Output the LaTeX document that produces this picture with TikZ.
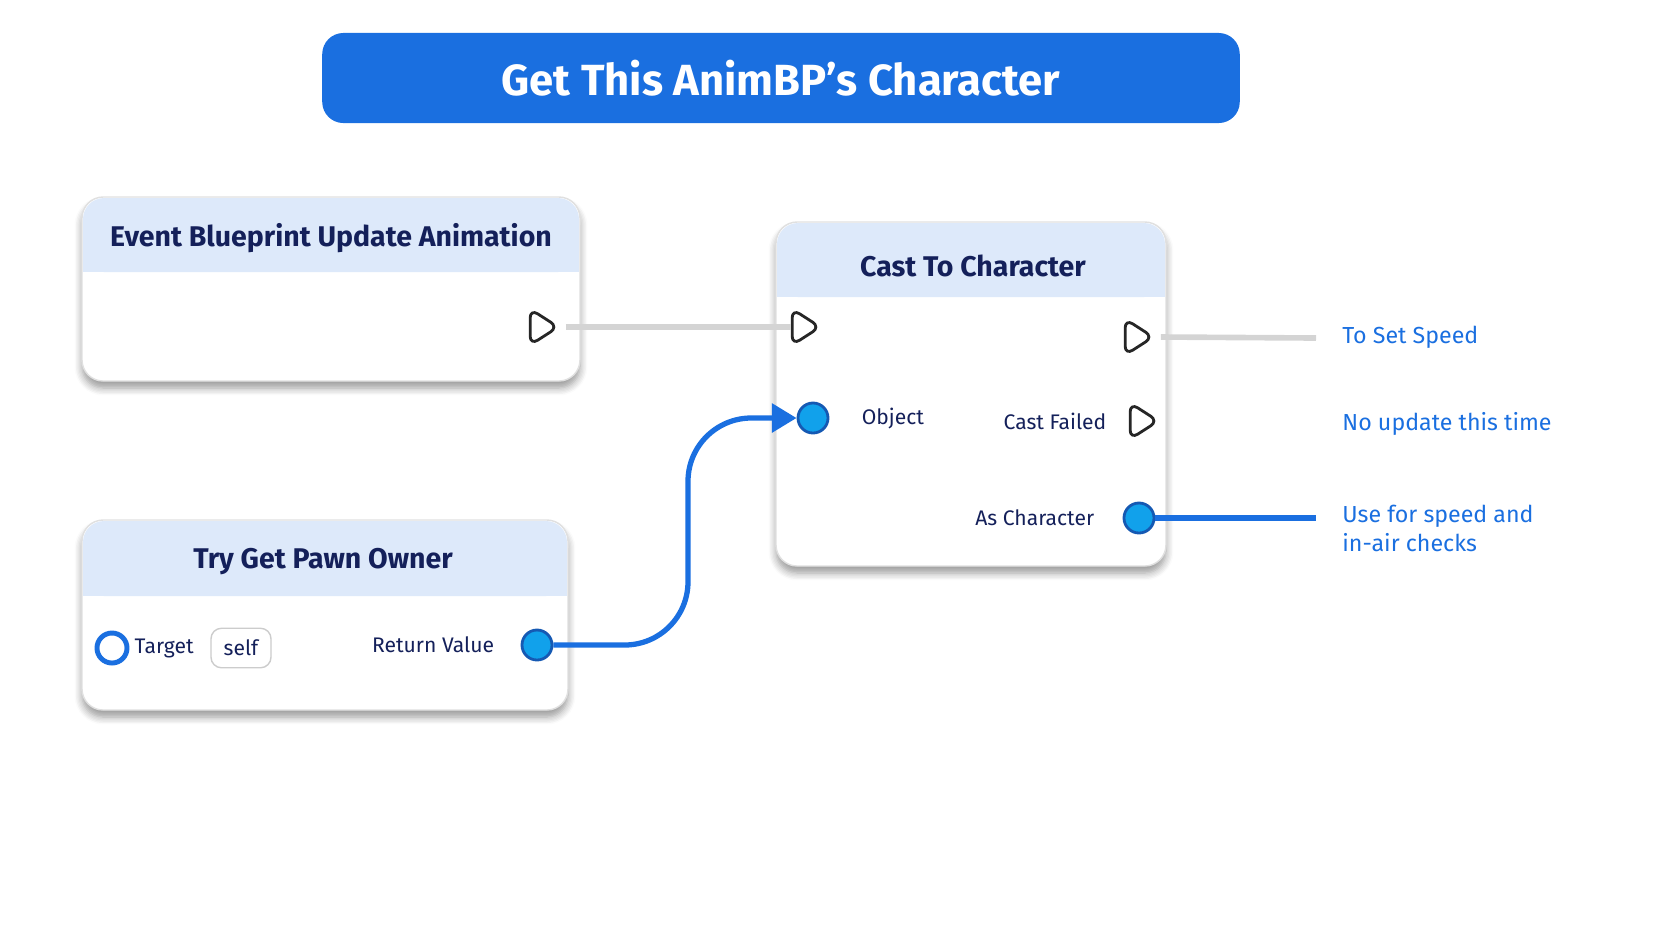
\documentclass[tikz,border=0pt]{standalone}
\usepackage{fontspec}
\setmainfont{Fira Sans}
\usepackage{tikz}
\usetikzlibrary{positioning,shapes.geometric,shadows.blur,arrows.meta}
\definecolor{eBlue}{HTML}{1A6FE0}
\definecolor{eNavy}{HTML}{14205A}
\definecolor{eHead}{HTML}{DDE9FA}
\definecolor{eWire}{HTML}{D4D4D4}
\tikzset{box/.style={draw=black!12, fill=white, rounded corners=6pt,
  blur shadow={shadow blur steps=6, shadow xshift=0pt, shadow yshift=-2pt}}}
\tikzset{head/.style={fill=eHead, rounded corners=6pt}}
\tikzset{ttl/.style={text=eNavy, font=\fontsize{8.1}{10}\selectfont\bfseries}}
\tikzset{pl/.style={text=eNavy, font=\fontsize{6.0}{8}\selectfont}}
\tikzset{note/.style={text=eBlue, font=\fontsize{6.6}{8.2}\selectfont, anchor=west, align=left}}
\tikzset{ex/.style={isosceles triangle, draw=black!85, fill=white, thick,
  rounded corners=2.5pt, inner sep=0pt, minimum height=0.28cm,
  minimum width=0.36cm, isosceles triangle stretches}}
\tikzset{dat/.style={circle, draw=eBlue!80!black, fill=eBlue!65!cyan, thick,
  inner sep=0pt, minimum size=0.3cm}}
\tikzset{w/.style={draw=eWire, line width=1.6pt}}
\tikzset{bw/.style={draw=eBlue, line width=1.5pt}}
\begin{document}
\begin{tikzpicture}[x=0.01cm,y=-0.01cm]
  \useasboundingbox (0,0) rectangle (1672,941);
  %% title
  \node (title) at (781,78) [fill=eBlue, rounded corners=6pt, minimum width=9.17cm,
    minimum height=0.9cm, text=white, font=\fontsize{12.4}{15}\selectfont\bfseries]
    {Get This AnimBP's Character};
  %% event node
  \draw[box] (82,197) rectangle (580,381);
  \fill[head] (83,198) rectangle (579,272);
  \fill[eHead] (83,250) rectangle (579,272);
  \node (evT) at (331,238) [ttl] {Event Blueprint Update Animation};
  \node (evX) at (540,327) [ex] {};
  %% cast node
  \draw[box] (776,222) rectangle (1166,566);
  \fill[head] (777,223) rectangle (1165,297);
  \fill[eHead] (777,275) rectangle (1165,297);
  \node (caT) at (973,266) [ttl] {Cast To Character};
  \node (caI) at (802,327) [ex] {};
  \node (caO) at (1135,337) [ex] {};
  \node (caObj) at (813,418) [dat] {};
  \node (lObj) [pl, right=0.2cm of caObj] {Object};
  \node (caF) at (1140,421) [ex] {};
  \node (lF) [pl, left=0.1cm of caF] {Cast Failed};
  \node (caC) at (1139,518) [dat] {};
  \node (lC) [pl, left=0.16cm of caC] {As Character};
  %% pawn node
  \draw[box] (82,520) rectangle (568,710);
  \fill[head] (83,521) rectangle (567,596);
  \fill[eHead] (83,574) rectangle (567,596);
  \node (pwT) at (323,562) [ttl] {Try Get Pawn Owner};
  \node (pwTg) at (112,648) [dat, fill=white, draw=eBlue, line width=1.4pt] {};
  \node (lTg) at (134,648) [pl, anchor=west, inner sep=0pt] {Target};
  \node (self) at (241,648) [pl, draw=black!20, rounded corners=3pt,
    minimum width=0.6cm, minimum height=0.39cm] {self};
  \node (pwR) at (537,645) [dat] {};
  \node (lR) [pl, left=0.14cm of pwR] {Return Value};
  %% notes
  \coordinate (eA) at (1316,338);
  \coordinate (eB) at (1316,518);
  \node (n1) at (1330,337) [note] {To Set Speed};
  \node (n2) at (1330,424) [note] {No update this time};
  \node (n3) at (1330,528) [note] {Use for speed and\\in-air checks};
  %% wires
  \draw[w] (evX.east) ++(4,0) -- (caI.west);
  \draw[w] (caO.east) ++(4,0) -- (eA);
  \draw[bw] (caC) -- (eB);
  \draw[bw, -{Triangle[length=7pt,width=8pt]}, rounded corners=18pt]
    (pwR) -- (688,645) -- (688,418) -- (caObj.west);
\end{tikzpicture}
\end{document}
